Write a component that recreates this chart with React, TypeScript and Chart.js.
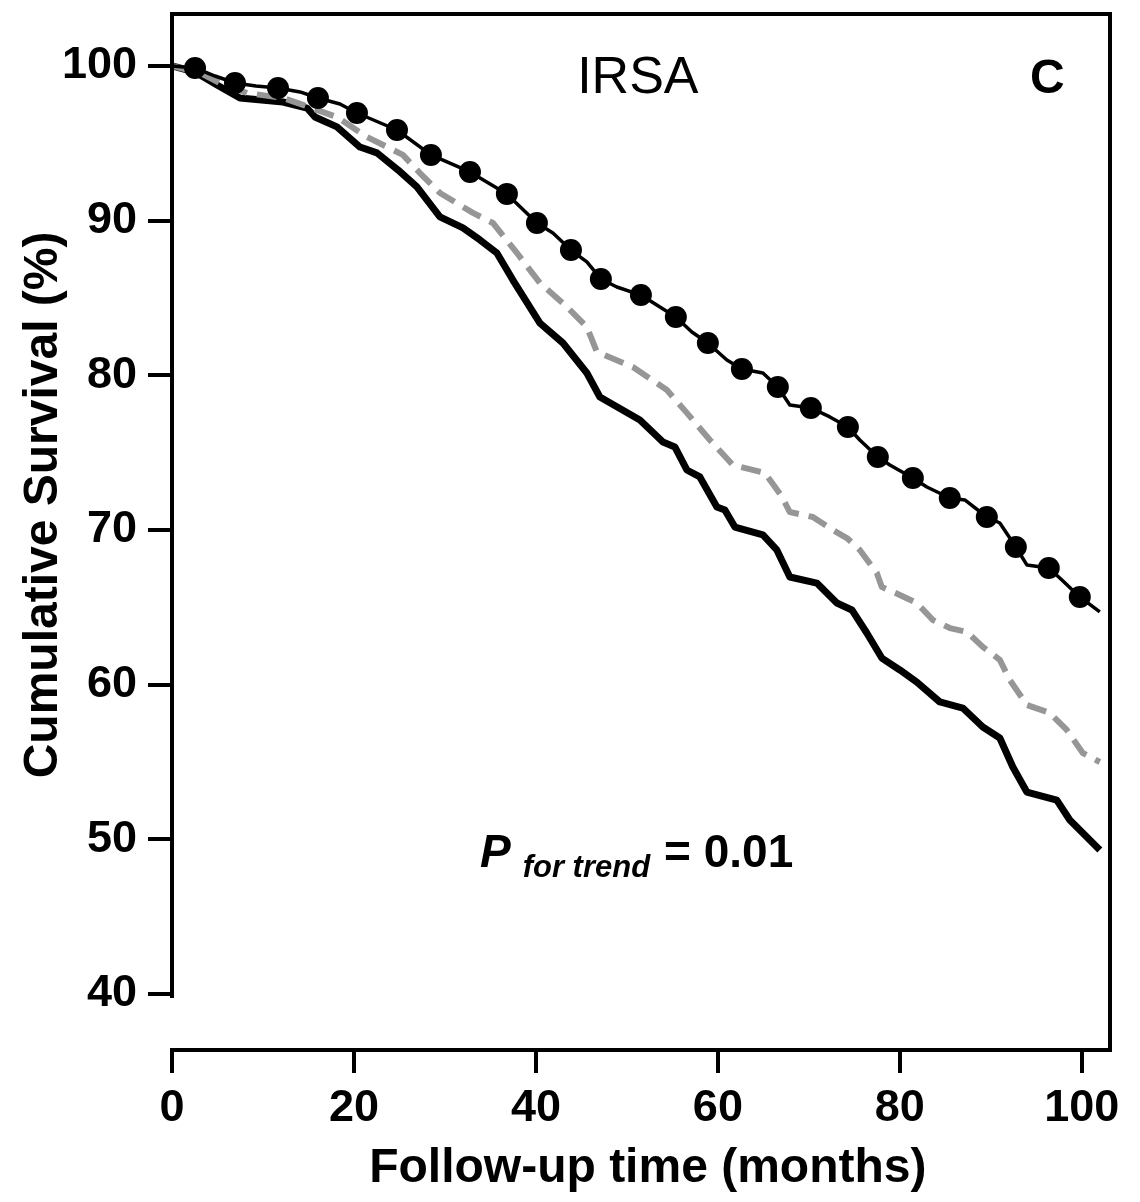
import React, { useEffect, useRef } from 'react';
import { Chart, registerables } from 'chart.js';

Chart.register(...registerables);

// Axis ticks and titles
const X_TICKS = [0, 20, 40, 60, 80, 100];
const Y_TICKS = [40, 50, 60, 70, 80, 90, 100];
const X_TITLE = 'Follow-up time (months)';
const Y_TITLE = 'Cumulative Survival (%)';
const X_MAX = 103.1;
const Y_MIN = 36.38;
const Y_MAX = 103.36;
const Y_AXIS_END = 39.74;

// Top group (solid thin line with dots)
const TOP_T = [0, 2.53, 4.73, 6.92, 9.23, 11.65, 14.07, 16.04, 18.46, 20.33, 24.73, 28.46, 32.75, 36.81, 40.11, 41.87, 43.85, 45.6, 47.14, 48.9, 51.54, 53.63, 55.38, 57.14, 58.9, 60.99, 62.64, 64.95, 66.59, 67.91, 70.22, 72.31, 74.29, 75.6, 77.58, 78.9, 81.43, 82.97, 85.49, 87.14, 89.56, 90.99, 92.75, 93.96, 96.37, 97.58, 99.78, 101.98];
const TOP_S = [100, 99.87, 99.35, 98.9, 98.71, 98.58, 98.32, 97.93, 97.54, 96.96, 95.86, 94.25, 93.15, 91.73, 89.85, 89.2, 88.1, 87.33, 86.23, 85.71, 85.19, 84.42, 83.77, 82.8, 82.09, 80.99, 80.41, 80.15, 79.25, 78.08, 77.89, 77.31, 76.66, 75.82, 74.72, 74.2, 73.36, 72.78, 72.07, 71.94, 70.84, 70.45, 68.9, 67.74, 67.54, 66.9, 65.67, 64.7];

// Markers on the top group
const DOT_T = [2.53, 6.92, 11.65, 16.04, 20.33, 24.73, 28.46, 32.75, 36.81, 40.11, 43.85, 47.14, 51.54, 55.38, 58.9, 62.64, 66.59, 70.22, 74.29, 77.58, 81.43, 85.49, 89.56, 92.75, 96.37, 99.78];
const DOT_S = [99.87, 98.9, 98.58, 97.93, 96.96, 95.86, 94.25, 93.15, 91.73, 89.85, 88.1, 86.23, 85.19, 83.77, 82.09, 80.41, 79.25, 77.89, 76.66, 74.72, 73.36, 72.07, 70.84, 68.9, 67.54, 65.67];

// Middle group (grey dashed)
const MID_T = [0, 3.08, 5.27, 8.24, 12.2, 14.4, 18.13, 21.43, 25.38, 27.25, 29.45, 33.08, 35.27, 37.91, 40.44, 43.41, 45.6, 46.7, 50.66, 54.4, 56.59, 59.12, 61.65, 65.16, 66.92, 67.91, 70.44, 72.64, 74.18, 75.6, 77.47, 78.02, 80.0, 81.87, 83.63, 85.49, 87.36, 89.12, 90.99, 92.09, 93.96, 96.48, 98.35, 100.11, 101.98];
const MID_S = [100, 99.55, 98.9, 98.25, 97.93, 97.48, 96.7, 95.41, 94.25, 93.08, 91.79, 90.5, 89.85, 87.91, 85.97, 84.42, 83.13, 81.51, 80.54, 79.05, 77.57, 75.82, 74.2, 73.69, 72.26, 71.16, 70.84, 70.0, 69.48, 68.71, 67.22, 66.31, 65.8, 65.28, 64.18, 63.66, 63.41, 62.44, 61.6, 60.3, 58.69, 58.17, 57.07, 55.58, 55.0];

// Bottom group (thick black)
const LOW_T = [0, 2.53, 4.95, 7.47, 12.2, 14.84, 15.71, 18.13, 20.66, 22.53, 24.84, 26.92, 29.45, 31.98, 33.85, 35.71, 37.47, 40.44, 42.97, 45.6, 47.03, 51.43, 53.96, 55.27, 56.59, 58.02, 59.89, 60.77, 61.87, 64.95, 66.48, 67.91, 70.88, 73.08, 74.73, 76.37, 78.02, 80.0, 81.87, 84.4, 86.92, 89.12, 90.99, 92.42, 93.96, 97.25, 98.68, 100.11, 101.98];
const LOW_S = [100, 99.61, 98.77, 97.93, 97.67, 97.28, 96.7, 96.06, 94.76, 94.38, 93.28, 92.18, 90.24, 89.53, 88.75, 87.91, 86.16, 83.38, 82.09, 80.15, 78.6, 77.11, 75.69, 75.37, 73.88, 73.43, 71.49, 71.29, 70.19, 69.68, 68.71, 66.96, 66.57, 65.28, 64.83, 63.34, 61.72, 60.95, 60.17, 58.88, 58.49, 57.26, 56.55, 54.68, 53.06, 52.54, 51.25, 50.41, 49.31];

const FONT = "'Liberation Sans', Arial, Helvetica, sans-serif";

const pts = (t: number[], s: number[]) => t.map((v, i) => ({ x: v, y: s[i] }));

const framePlugin = {
  id: 'frameAndText',
  afterDraw(chart: any) {
    const { ctx, chartArea: a, scales } = chart;
    const x = scales.x;
    const y = scales.y;
    ctx.save();
    ctx.strokeStyle = '#000';
    ctx.lineWidth = 4;
    ctx.lineCap = 'butt';
    ctx.lineJoin = 'miter';
    ctx.beginPath();
    ctx.moveTo(a.left, y.getPixelForValue(Y_AXIS_END));
    ctx.lineTo(a.left, a.top);
    ctx.lineTo(a.right, a.top);
    ctx.lineTo(a.right, a.bottom + 2);
    ctx.stroke();

    ctx.fillStyle = '#000';

    // Axis titles
    ctx.font = `bold 48px ${FONT}`;
    ctx.textAlign = 'center';
    ctx.textBaseline = 'middle';
    ctx.fillText(X_TITLE, x.getPixelForValue(52.3), x.bottom - 33);
    ctx.save();
    ctx.translate(y.left + 44, y.getPixelForValue(71.62));
    ctx.rotate(-Math.PI / 2);
    ctx.fillText(Y_TITLE, 0, 0);
    ctx.restore();

    ctx.textBaseline = 'alphabetic';
    // IRSA
    ctx.textAlign = 'center';
    ctx.font = `normal 52px ${FONT}`;
    ctx.fillText('IRSA', x.getPixelForValue(51.2), y.getPixelForValue(98.25));
    // C
    ctx.font = `bold 48px ${FONT}`;
    ctx.fillText('C', x.getPixelForValue(96.2), y.getPixelForValue(98.25));

    // P for trend = 0.01
    ctx.textAlign = 'left';
    let px = x.getPixelForValue(33.85);
    const py = y.getPixelForValue(48.21);
    ctx.font = `italic bold 46px ${FONT}`;
    ctx.fillText('P', px, py);
    px += ctx.measureText('P').width + 12;
    ctx.font = `italic bold 31px ${FONT}`;
    ctx.fillText('for trend', px, py + 10);
    px += ctx.measureText('for trend').width + 14;
    ctx.font = `bold 46px ${FONT}`;
    ctx.fillText('= 0.01', px, py);
    ctx.restore();
  },
};

export default function App() {
  const ref = useRef<HTMLCanvasElement | null>(null);

  useEffect(() => {
    document.body.style.margin = '0';
    const canvas = ref.current;
    if (!canvas) return;
    const chart = new Chart(canvas, {
      type: 'line',
      data: {
        datasets: [
          {
            label: 'dots',
            data: pts(DOT_T, DOT_S),
            showLine: false,
            pointRadius: 11,
            pointBackgroundColor: '#000',
            pointBorderWidth: 0,
            borderColor: '#000',
          },
          {
            label: 'top',
            data: pts(TOP_T, TOP_S),
            borderColor: '#000',
            borderWidth: 3.5,
            pointRadius: 0,
            borderJoinStyle: 'round',
            tension: 0,
          },
          {
            label: 'middle',
            data: pts(MID_T, MID_S),
            borderColor: '#969696',
            borderWidth: 6,
            borderDash: [20, 10],
            pointRadius: 0,
            borderJoinStyle: 'round',
            tension: 0,
          },
          {
            label: 'bottom',
            data: pts(LOW_T, LOW_S),
            borderColor: '#000',
            borderWidth: 7,
            pointRadius: 0,
            borderJoinStyle: 'round',
            tension: 0,
          },
        ],
      },
      options: {
        responsive: false,
        animation: false,
        devicePixelRatio: 1,
        layout: { padding: { top: 14, right: 30, left: 0, bottom: 0 } },
        plugins: {
          legend: { display: false },
          tooltip: { enabled: false },
        },
        scales: {
          x: {
            type: 'linear',
            min: 0,
            max: X_MAX,
            afterBuildTicks: (s: any) => {
              s.ticks = X_TICKS.map((v) => ({ value: v }));
            },
            afterFit: (s: any) => {
              s.height = 152;
              s.paddingLeft = 0;
              s.paddingRight = 0;
            },
            grid: {
              display: true,
              drawOnChartArea: false,
              drawTicks: true,
              tickLength: 23,
              color: '#000',
              lineWidth: 4,
            },
            border: { display: true, color: '#000', width: 4 },
            ticks: {
              color: '#000',
              padding: 9,
              maxRotation: 0,
              autoSkip: false,
              font: { family: FONT, size: 45, weight: 'bold' },
            },
            title: { display: false },
          },
          y: {
            type: 'linear',
            min: Y_MIN,
            max: Y_MAX,
            afterBuildTicks: (s: any) => {
              s.ticks = Y_TICKS.map((v) => ({ value: v }));
            },
            afterFit: (s: any) => {
              s.width = 172;
              s.paddingTop = 0;
              s.paddingBottom = 0;
            },
            grid: {
              display: true,
              drawOnChartArea: false,
              drawTicks: true,
              tickLength: 24,
              color: '#000',
              lineWidth: 4,
            },
            border: { display: false },
            ticks: {
              color: '#000',
              padding: 11,
              autoSkip: false,
              font: { family: FONT, size: 45, weight: 'bold' },
            },
            title: { display: false },
          },
        },
      },
      plugins: [framePlugin],
    });
    return () => chart.destroy();
  }, []);

  return (
    <div style={{ width: 1140, height: 1202 }}>
      <canvas ref={ref} width={1140} height={1202} style={{ display: 'block' }} />
    </div>
  );
}
